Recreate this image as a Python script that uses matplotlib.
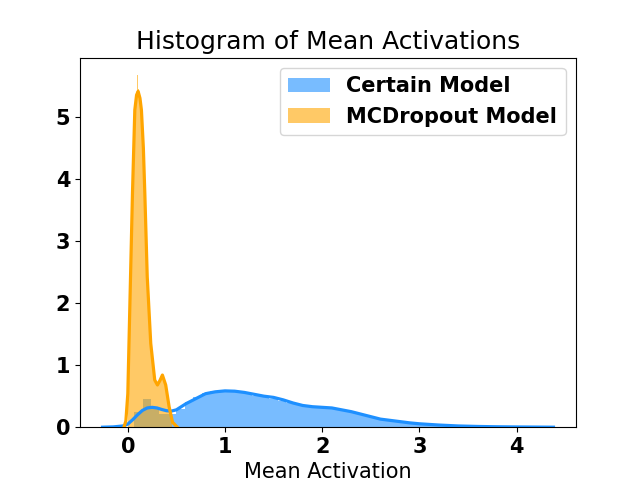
import numpy as np
import matplotlib
matplotlib.use('Agg')
import matplotlib.pyplot as plt

# histogram of the certain model (bin start, bin width, density per bin)
certain_start = 0.065
certain_width = 0.087
certain_hist = [0.25, 0.45, 0.30, 0.21, 0.22, 0.30, 0.40, 0.49, 0.55, 0.58,
                0.59, 0.58, 0.56, 0.54, 0.51, 0.49, 0.46, 0.43, 0.39, 0.35,
                0.32, 0.33, 0.32, 0.30, 0.28, 0.26, 0.23, 0.18, 0.15, 0.12,
                0.10, 0.08, 0.07, 0.055, 0.045, 0.035, 0.025, 0.02, 0.015, 0.012,
                0.01, 0.008, 0.006, 0.004, 0.003, 0.002]

# kde curve of the certain model
certain_kde_x = [-0.26, -0.15, -0.05, 0.0, 0.05, 0.1, 0.15, 0.2, 0.25, 0.3,
                 0.35, 0.4, 0.45, 0.5, 0.55, 0.6, 0.7, 0.8, 0.9, 1.0,
                 1.1, 1.2, 1.3, 1.4, 1.5, 1.6, 1.7, 1.8, 1.9, 2.0,
                 2.1, 2.2, 2.3, 2.4, 2.5, 2.6, 2.7, 2.8, 2.9, 3.0,
                 3.2, 3.4, 3.6, 3.8, 4.0, 4.2, 4.38]
certain_kde_y = [0.0, 0.005, 0.02, 0.05, 0.12, 0.2, 0.27, 0.31, 0.32, 0.31,
                 0.285, 0.265, 0.26, 0.28, 0.33, 0.38, 0.46, 0.54, 0.57, 0.585,
                 0.58, 0.56, 0.53, 0.50, 0.48, 0.44, 0.39, 0.35, 0.33, 0.32,
                 0.31, 0.28, 0.25, 0.21, 0.17, 0.13, 0.11, 0.09, 0.07, 0.055,
                 0.035, 0.02, 0.012, 0.007, 0.004, 0.002, 0.0]

# histogram of the MC dropout model
mc_start = 0.0
mc_width = 0.01
mc_hist = [0.7, 1.5, 2.2, 3.0, 3.6, 4.2, 4.8, 5.15, 5.35, 5.67,
           5.45, 5.35, 5.25, 5.15, 4.8, 4.5, 4.1, 3.75, 3.2, 2.7,
           2.2, 1.9, 1.6, 1.35, 1.1, 0.95, 0.85, 0.76, 0.72, 0.69,
           0.68, 0.70, 0.74, 0.78, 0.82, 0.84, 0.82, 0.76, 0.70, 0.62,
           0.52, 0.42, 0.32, 0.22, 0.12]

# kde curve of the MC dropout model
mc_kde_x = [-0.04, -0.02, 0.0, 0.024, 0.048, 0.072, 0.09, 0.106, 0.125, 0.14,
            0.16, 0.175, 0.2, 0.236, 0.277, 0.305, 0.33, 0.356, 0.39, 0.425,
            0.46, 0.51]
mc_kde_y = [0.0, 0.1, 0.54, 2.16, 3.77, 5.11, 5.35, 5.41, 5.3, 5.11,
            4.5, 3.77, 2.42, 1.35, 0.76, 0.68, 0.75, 0.84, 0.68, 0.33,
            0.08, 0.0]

blue = '#1E90FF'
orange = '#FFA500'

fig, ax = plt.subplots(figsize=(6.4, 4.8), dpi=100)

edges = certain_start + certain_width * np.arange(len(certain_hist))
ax.bar(edges, certain_hist, width=certain_width, align='edge', color=blue,
       alpha=0.6, linewidth=0, label='Certain Model')
ax.plot(certain_kde_x, certain_kde_y, color=blue, lw=2.3, zorder=3)

edges = mc_start + mc_width * np.arange(len(mc_hist))
ax.bar(edges, mc_hist, width=mc_width, align='edge', color=orange,
       alpha=0.6, linewidth=0, label='MCDropout Model')
ax.plot(mc_kde_x, mc_kde_y, color=orange, lw=2.3, zorder=4)

ax.set_title('Histogram of Mean Activations', fontsize=18)
ax.set_xlabel('Mean Activation', fontsize=15)
ax.tick_params(labelsize=15)
for lab in ax.get_xticklabels() + ax.get_yticklabels():
    lab.set_fontweight('bold')
ax.legend(loc='upper right', prop={'size': 15, 'weight': 'bold'})

plt.savefig('out.png', dpi=100)
